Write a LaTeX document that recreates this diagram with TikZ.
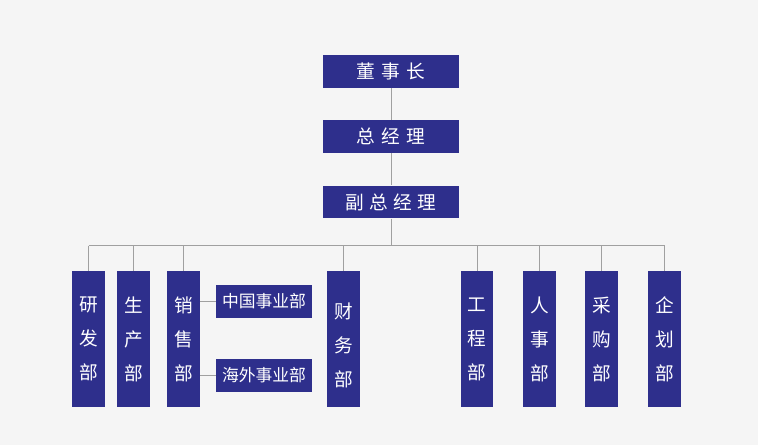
\documentclass[tikz,border=0pt]{standalone}
\usepackage{fontspec}
\setmainfont{Noto Sans CJK SC}
\definecolor{boxblue}{RGB}{46,47,140}
\definecolor{linegray}{RGB}{160,160,160}
\definecolor{bggray}{RGB}{245,245,245}

\begin{document}
\begin{tikzpicture}[x=0.75pt,y=-0.75pt,
		topbox/.style={fill=boxblue, text=white, minimum width=102pt, minimum height=24.5pt, inner sep=0pt, font=\fontsize{14pt}{15pt}\selectfont},
		deptbox/.style={fill=boxblue, text=white, minimum width=24.5pt, minimum height=102pt, inner sep=0pt, align=center, font=\fontsize{14pt}{25.5pt}\selectfont},
		subbox/.style={fill=boxblue, text=white, minimum width=72pt, minimum height=24.5pt, inner sep=0pt, font=\fontsize{12.6pt}{14pt}\selectfont},
		link/.style={draw=linegray, line width=0.75pt}]
			%%%%% START %%%%%
			
			\fill[bggray] (0, 0) rectangle (758, 445);
			\useasboundingbox (0, 0) rectangle (758, 445);
			
			\node[topbox] (dsz) at (391, 71.5) {董\hspace{5pt}事\hspace{5pt}长};
			\node[topbox] (zjl) at (391, 136.5) {总\hspace{5pt}经\hspace{5pt}理};
			\node[topbox] (fzjl) at (391, 202) {副\hspace{4pt}总\hspace{4pt}经\hspace{4pt}理};
			
			\node[deptbox] (yfb) at (88.5, 339) {研\\发\\部};
			\node[deptbox] (scb) at (133.5, 339) {生\\产\\部};
			\node[deptbox] (xsb) at (183.5, 339) {销\\售\\部};
			\node[deptbox] (cwb) at (343.5, 339) {\rule{0pt}{22pt}财\\务\\部};
			\node[deptbox] (gcb) at (477, 339) {工\\程\\部};
			\node[deptbox] (rsb) at (539.5, 339) {人\\事\\部};
			\node[deptbox] (cgb) at (601.5, 339) {采\\购\\部};
			\node[deptbox] (qhb) at (664.5, 339) {企\\划\\部};
			
			\node[subbox] (zgsyb) at (264, 301.5) {中国事业部};
			\node[subbox] (hwsyb) at (264, 375.5) {海外事业部};
			
			\coordinate (bar) at (391, 246);
			
			\draw[link] (dsz) -- (zjl);
			\draw[link] (zjl) -- (fzjl);
			\draw[link] (fzjl) -- (bar);
			\draw[link] (yfb.north |- bar) -- (qhb.north |- bar);
			\foreach \dept in {yfb, scb, xsb, cwb, gcb, rsb, cgb, qhb}
				\draw[link] (\dept.north |- bar) -- (\dept.north);
			
			\draw[link] (xsb.east |- zgsyb) -- (zgsyb.west);
			\draw[link] (xsb.east |- hwsyb) -- (hwsyb.west);
			
			%%%%% END %%%%%
		\end{tikzpicture}
\end{document}
